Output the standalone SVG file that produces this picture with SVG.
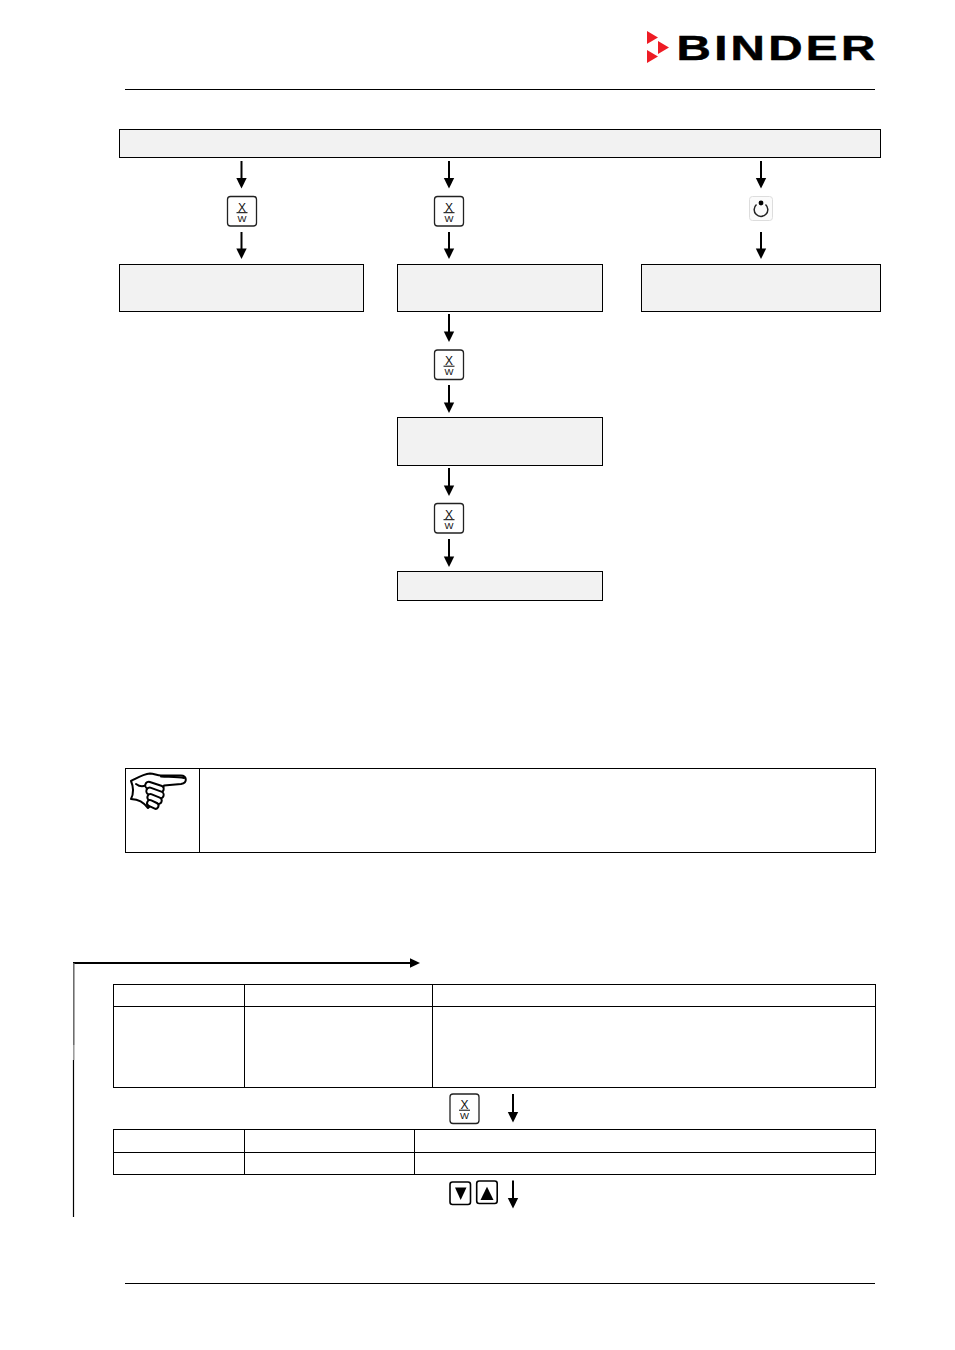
<svg xmlns="http://www.w3.org/2000/svg" width="955" height="1350" viewBox="0 0 955 1350">
<style>
.box{fill:#f2f2f2;stroke:#000;stroke-width:1}
.cell{fill:none;stroke:#000;stroke-width:1}
.rule{stroke:#000;stroke-width:1;fill:none}
.conn{stroke:#000;stroke-width:2;fill:none}
.ah{fill:#000;stroke:none}
.key{fill:#fff;stroke:#222;stroke-width:1.300}
.kt{font-family:"Liberation Sans",Arial,sans-serif;fill:#111;text-anchor:middle}
.fg{fill:#fff;stroke:#000;stroke-width:2}
</style>
<defs>
<g id="xw">
<rect class="key" x="-14.500" y="-14.500" width="29" height="29.500" rx="3"/>
<text class="kt" x="0" y="0.500" font-size="12">X</text>
<line x1="-5.500" y1="1.700" x2="5.500" y2="1.700" stroke="#000" stroke-width="1"/>
<text class="kt" x="0" y="10.500" font-size="9.500">W</text>
</g>
<path id="arr" class="ah" d="M-5.200 0H5.200L0 10.500Z"/>
</defs>
<rect width="955" height="1350" fill="#fff"/>
<g id="logo">
<polygon points="647,31 658,37.500 647,44" fill="#ee1c25"/>
<polygon points="658,41 669,47.500 658,54" fill="#ee1c25"/>
<polygon points="647,50 658,56.500 647,63" fill="#ee1c25"/>
<text transform="translate(676.500 59.500) scale(1.360 1)" x="0" y="0" font-family="'Liberation Sans',Arial,sans-serif" font-weight="700" font-size="35" letter-spacing="2.400" fill="#000" stroke="#000" stroke-width="0.500">BINDER</text>
</g>
<line class="rule" x1="125" y1="89.500" x2="875" y2="89.500"/>
<line class="rule" x1="125" y1="1283.500" x2="875" y2="1283.500"/>
<g id="connectors">
<line class="conn" x1="241.500" y1="161" x2="241.500" y2="179"/><use href="#arr" x="241.500" y="178"/>
<line class="conn" x1="241.500" y1="232" x2="241.500" y2="249"/><use href="#arr" x="241.500" y="248.500"/>
<line class="conn" x1="449" y1="161" x2="449" y2="179"/><use href="#arr" x="449" y="178"/>
<line class="conn" x1="449" y1="232" x2="449" y2="249"/><use href="#arr" x="449" y="248.500"/>
<line class="conn" x1="761" y1="161" x2="761" y2="179"/><use href="#arr" x="761" y="178"/>
<line class="conn" x1="761" y1="232" x2="761" y2="249"/><use href="#arr" x="761" y="248.500"/>
<line class="conn" x1="449" y1="314" x2="449" y2="332"/><use href="#arr" x="449" y="331.500"/>
<line class="conn" x1="449" y1="385" x2="449" y2="403"/><use href="#arr" x="449" y="402.500"/>
<line class="conn" x1="449" y1="468" x2="449" y2="486"/><use href="#arr" x="449" y="485.500"/>
<line class="conn" x1="449" y1="539" x2="449" y2="557"/><use href="#arr" x="449" y="556.500"/>
<line class="conn" x1="513" y1="1094" x2="513" y2="1113"/><use href="#arr" x="513" y="1112"/>
<line class="conn" x1="513" y1="1180.500" x2="513" y2="1199"/><use href="#arr" x="513" y="1198"/>
<path d="M73 963H412" fill="none" stroke="#000" stroke-width="2"/>
<line x1="73.800" y1="963" x2="73.800" y2="1045" stroke="#666" stroke-width="1.500"/>
<line x1="73.800" y1="1045" x2="73.800" y2="1060" stroke="#999" stroke-width="1.500"/>
<line x1="73.500" y1="1060" x2="73.500" y2="1217" stroke="#000" stroke-width="1.200"/>
<path class="ah" d="M410 958.300L420 963L410 967.700Z"/>
</g>
<g id="node-top"><rect class="box" x="119.500" y="129.500" width="761" height="28"/></g>
<g id="node-a"><rect class="box" x="119.500" y="264.500" width="244" height="47"/></g>
<g id="node-b"><rect class="box" x="397.500" y="264.500" width="205" height="47"/></g>
<g id="node-c"><rect class="box" x="641.500" y="264.500" width="239" height="47"/></g>
<g id="node-d"><rect class="box" x="397.500" y="417.500" width="205" height="48"/></g>
<g id="node-e"><rect class="box" x="397.500" y="571.500" width="205" height="29"/></g>
<g id="key-1"><use href="#xw" x="242" y="211"/></g>
<g id="key-2"><use href="#xw" x="449" y="211"/></g>
<g id="key-3"><use href="#xw" x="449" y="364.500"/></g>
<g id="key-4"><use href="#xw" x="449" y="518"/></g>
<g id="key-5"><use href="#xw" x="464.500" y="1108.500"/></g>
<g id="key-reset">
<rect x="749.500" y="196.500" width="23" height="24" rx="3" fill="#fbfbfb" stroke="#ddd"/>
<path d="M756.500 204.500A6.800 6.800 0 1 0 765.500 204.500" fill="none" stroke="#222" stroke-width="1.500"/>
<circle cx="761" cy="203" r="2.400" fill="#000"/>
</g>
<g id="note">
<rect class="cell" x="125.500" y="768.500" width="750" height="84"/>
<line class="cell" x1="199.500" y1="768.500" x2="199.500" y2="852.500"/>
<g id="hand" stroke-linejoin="round" stroke-linecap="round">
<path class="fg" d="M131 781C137 778 143 774 150 773.500C154 773.500 157 775.500 161 775.500H180C187 775 188 783 181 784L164 785.500L160 797L148 808C143 802 139 799.500 131 799C134 793 134 788 131 781Z"/>
<path d="M136 784C140 787 143 787 146 785M161 776.500C170 777 178 777 184 778" fill="none" stroke="#000" stroke-width="2"/>
<rect class="fg" x="145" y="783.500" width="19" height="7" rx="3.500" transform="rotate(18 154 787)"/>
<rect class="fg" x="146" y="789.500" width="18" height="7" rx="3.500" transform="rotate(20 155 793)"/>
<rect class="fg" x="147" y="795.500" width="15" height="6.500" rx="3.200" transform="rotate(22 154 799)"/>
<rect class="fg" x="147" y="801.500" width="12" height="6" rx="3" transform="rotate(25 153 804)"/>
</g>
</g>
<g id="table-1">
<rect class="cell" x="113.500" y="984.500" width="762" height="103"/>
<line class="cell" x1="113.500" y1="1006.500" x2="875.500" y2="1006.500"/>
<line class="cell" x1="244.500" y1="984.500" x2="244.500" y2="1087.500"/>
<line class="cell" x1="432.500" y1="984.500" x2="432.500" y2="1087.500"/>
</g>
<g id="table-2">
<rect class="cell" x="113.500" y="1129.500" width="762" height="45"/>
<line class="cell" x1="113.500" y1="1152.500" x2="875.500" y2="1152.500"/>
<line class="cell" x1="244.500" y1="1129.500" x2="244.500" y2="1174.500"/>
<line class="cell" x1="414.500" y1="1129.500" x2="414.500" y2="1174.500"/>
</g>
<g id="key-down">
<rect x="450" y="1182" width="20.500" height="22.500" rx="2.500" fill="#fff" stroke="#000" stroke-width="1.600"/>
<path class="ah" d="M455 1187.500H466.500L460.700 1200Z"/>
</g>
<g id="key-up">
<rect x="476.700" y="1181" width="20.500" height="22.500" rx="2.500" fill="#fff" stroke="#000" stroke-width="1.600"/>
<path class="ah" d="M480.500 1200H493.500L487 1186.700Z"/>
</g>
</svg>
